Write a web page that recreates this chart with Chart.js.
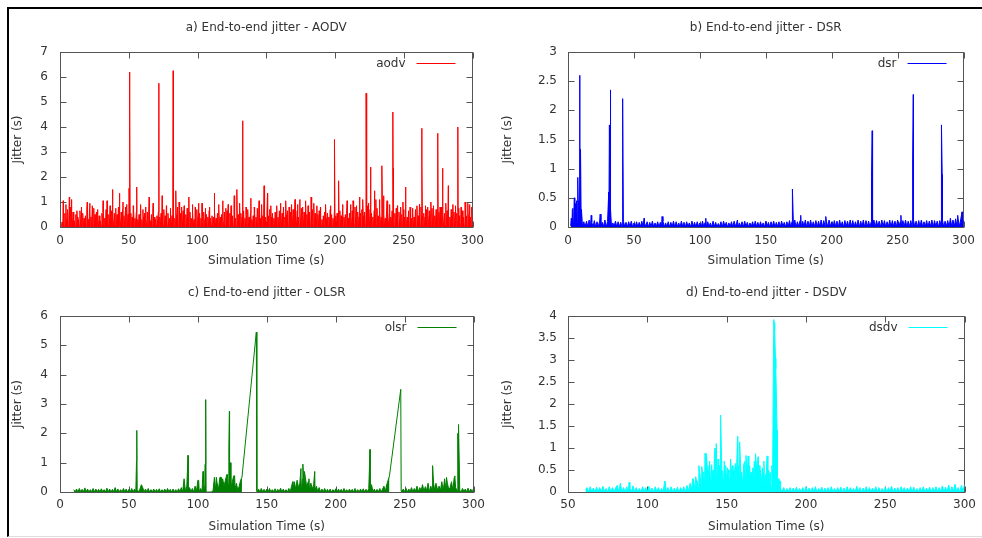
<!DOCTYPE html>
<html>
<head>
<meta charset="utf-8">
<title>End-to-end jitter</title>
<script src="https://cdn.jsdelivr.net/npm/chart.js@4.4.1/dist/chart.umd.min.js"></script>
<style>
	body { margin: 0; background: #fff; }
	#page { position: relative; width: 982px; height: 538px; overflow: hidden; }
	#frame { position: absolute; left: 7px; top: 7px; width: 975px; height: 530px; box-sizing: border-box;
		border-left: 2px solid #000; border-top: 2px solid #000; border-bottom: 1px solid #ddd; }
	canvas { position: absolute; }
</style>
</head>
<body>
<div id="page">
	<div id="frame"></div>
	<canvas id="cAodv" width="491" height="270" style="left:0;top:0"></canvas>
	<canvas id="cDsr" width="491" height="270" style="left:491px;top:0"></canvas>
	<canvas id="cOlsr" width="491" height="268" style="left:0;top:270px"></canvas>
	<canvas id="cDsdv" width="491" height="268" style="left:491px;top:270px"></canvas>
</div>
<script>
// jitter samples (s): regular floor samples plus the isolated peaks as [time, jitter]

// AODV, one sample every 0.5 s from t = 1
const aodvStart = 1, aodvStep = 0.5;
const aodvFloor = [
	.01,.2,.03,.45,0,.55,.02,.3,.04,.7,.01,.4,.03,.8,0,.35,.02,.6,.04,.25,
	.02,.5,0,.4,.03,.3,.01,.65,.04,.2,.02,.55,0,.35,.03,.45,.01,.7,.02,.3,
	.03,.75,.01,.4,.02,.85,0,.35,.04,.5,.02,.6,.01,.3,.03,.45,0,.25,.02,.55,
	.01,.6,.03,.35,0,.7,.02,.45,.04,.5,.01,.3,.03,.65,0,.4,.02,.55,.04,.35,
	.02,.5,.01,.8,.03,.4,0,.6,.02,.7,.04,.45,.01,.65,.03,.9,0,.5,.02,.4,
	.03,.55,.01,.4,.02,.7,0,.35,.04,.6,.02,.3,.01,.5,.03,.45,0,.3,.02,.4,
	.01,.55,.03,.3,0,.6,.02,.45,.04,.25,.01,.5,.03,.65,0,.4,.02,.3,.04,.45,
	.02,.6,0,.4,.03,.55,.01,.3,.04,.7,.02,.45,0,.3,.03,.55,.01,.35,.04,.65,
	.01,.45,.03,.6,0,.35,.02,.5,.04,.8,.01,.4,.03,.55,0,.3,.02,.65,.04,.4,
	.03,.5,.01,.75,.04,.4,0,.6,.02,.35,.03,.55,.01,.3,.04,.45,0,.7,.02,.4,
	.01,.55,.03,.35,0,.45,.02,.6,.04,.3,.01,.5,.03,.4,0,.65,.02,.35,.04,.45,
	.02,.4,0,.6,.03,.35,.01,.55,.04,.75,.02,.4,0,.5,.03,.3,.01,.6,.04,.45,
	.01,.65,.03,.4,0,.55,.02,.8,.04,.45,.01,.6,.03,.35,0,.7,.02,.5,.04,.4,
	.03,.55,.01,.4,.04,.65,0,.35,.02,.5,.03,.7,.01,.4,.04,.55,0,.3,.02,.45,
	.01,.6,.03,.4,0,.75,.02,.5,.04,.35,.01,.65,.03,.45,0,.55,.02,.4,.04,.6,
	.02,.45,0,.7,.03,.4,.01,.55,.04,.35,.02,.6,0,.5,.03,.4,.01,.65,.04,.45,
	.01,.55,.03,.8,0,.4,.02,.5,.04,.65,.01,.35,.03,.6,0,.45,.02,.7,.04,.4,
	.03,.5,.01,.65,.04,.4,0,.55,.02,.75,.03,.45,.01,.6,.04,.35,0,.5,.02,.4,
	.01,.6,.03,.45,0,.7,.02,.4,.04,.55,.01,.35,.03,.5,0,.65,.02,.4,.04,.3,
	.02,.45,0,.6,.03,.35,.01,.55,.04,.4,.02,.7,0,.5,.03,.35,.01,.6,.04,.45,
	.01,.55,.03,.4,0,.65,.02,.45,.04,.75,.01,.4,.03,.5,0,.6,.02,.35,.04,.55,
	.03,.4,.01,.65,.04,.5,0,.8,.02,.45,.03,.6,.01,.4,.04,.55,0,.7,.02,.45,
	.01,.6,.03,.5,0,.85,.02,.45,.04,.7,.01,.55,.03,.4,0,.65,.02,.5,.04,.75,
	.02,.45,0,.6,.03,.4,.01,.7,.04,.5,.02,.35,0,.65,.03,.45,.01,.55,.04,.4,
	.01,.65,.03,.45,0,.55,.02,.75,.04,.4,.01,.6,.03,.35,0,.5,.02,.7,.04,.4,
	.03,.5,.01,.4,.04,.65,0,.45,.02,.35,.03,.55,.01,.4,.04,.7,0,.5,.02,.45,
	.01,.6,.03,.8,0,.45,.02,.55,.04,.4,.01,.7,.03,.5,0,.65,.02,.4,.04,.75,
	.02,.55,0,.45,.03,.7,.01,.4,.04,.6,.02,.5,0,.8,.03,.45,.01,.55,.04,.4,
	.01,.65,.03,.5,0,.4,.02,.7,.04,.45,.01,.6,.03,.35,0,.55,.02,.75,.04,.45,
	.03,.5,.01,.65,.04,.4,0,.6,.02,.45,.03,.7,.01,.5,.04,.4,0,.6,.02,.4
];
const aodvPeaks = [
	[2.4,1.05],[4.3,.9],[6.8,1.2],[8.4,1.1],[12.3,.65],[15.6,.8],[19.8,1.0],[21.7,.95],
	[24.6,.75],[27.3,.7],[31.4,1.05],[34.2,1.05],[36.4,.85],[38.1,1.5],[40.6,.75],[43.2,1.35],
	[45.8,1.0],[47.6,.8],[50.2,1.55],[50.7,6.2],[50.8,4.65],[53.3,.85],[55.8,1.6],[58.6,.9],
	[60.3,.7],[62.2,.8],[64.9,1.2],[67.7,.95],[71.9,5.75],[74.3,1.25],[77.4,.85],[80.2,.75],
	[82.3,6.25],[84.2,1.45],[86.6,1.0],[88.4,.8],[90.3,.85],[93.7,1.2],[96.3,.9],[98.4,.8],
	[100.7,.95],[103.3,.95],[105.6,.75],[108.6,.8],[112.2,1.35],[115.4,.9],[118.3,1.05],
	[120.7,.75],[122.3,.9],[124.4,.85],[126.7,1.25],[128.7,1.5],[130.6,.95],[132.8,4.25],
	[135.4,.8],[138.8,1.15],[141.3,.8],[144.8,1.05],[146.6,.9],[148.4,1.65],[150.9,1.35],
	[153.3,.85],[157.6,.85],[160.4,.95],[164.1,1.05],[166.6,.8],[168.3,.9],[170.9,1.1],
	[172.7,.9],[174.4,1.1],[176.4,.8],[178.6,1.05],[180.4,.85],[182.6,1.2],[184.6,.95],
	[186.8,.85],[189.4,.8],[193.1,.9],[196.6,.85],[199.6,3.5],[202.6,1.85],[205.6,.9],
	[208.8,1.05],[211.3,.9],[213.1,1.05],[215.6,.85],[217.9,1.2],[220.1,1.1],[222.6,5.35],
	[224.3,.95],[225.9,2.4],[228.6,1.45],[229.7,1.1],[232.4,1.1],[234.1,2.45],[235.3,1.25],
	[237.8,1.05],[239.7,.9],[242.1,4.6],[242.2,2.35],[245.4,.85],[247.7,.8],[249.4,1.0],
	[251.3,1.6],[254.6,.8],[256.4,.75],[259.6,.85],[261.4,.9],[263.1,3.95],[263.2,2.5],
	[265.6,.85],[267.3,.8],[269.7,1.0],[271.6,.85],[274.7,3.75],[276.4,.8],[278.1,2.35],
	[280.6,.95],[282.4,1.65],[285.7,.9],[287.6,.85],[289.2,2.05],[289.4,4.0],[291.7,.8],
	[294.6,1.0],[296.6,.95],[297.8,.9],[299.3,.8]
];

// DSR, one sample per second from t = 2
const dsrStart = 2, dsrStep = 1;
const dsrFloor = [
	.02,.05,.1,.04,.15,.08,.12,.05,.1,.01,.09,0,.1,.01,.12,0,.08,.01,.11,0,
	.09,.01,.1,0,.08,.01,.12,0,.09,.01,.1,0,.07,.01,.1,0,.09,.01,.08,0,
	.1,.01,.08,0,.09,.01,.1,0,.07,.01,.09,0,.08,.01,.1,0,.07,.01,.09,0,
	.08,.01,.1,0,.07,.01,.09,0,.08,.01,.1,0,.07,.01,.09,0,.08,.01,.1,0,
	.09,.01,.07,0,.1,.01,.08,0,.09,.01,.07,0,.1,.01,.08,0,.09,.01,.07,0,
	.1,.01,.08,0,.09,.01,.07,0,.1,.01,.08,0,.06,.01,.09,0,.1,.01,.08,0,
	.07,.01,.09,0,.1,.01,.08,0,.07,.01,.09,0,.1,.01,.08,0,.07,.01,.09,0,
	.1,.01,.08,0,.09,.01,.07,0,.1,.01,.08,0,.09,.01,.1,0,.08,.01,.09,0,
	.1,.01,.08,0,.09,.01,.11,0,.1,.01,.12,0,.09,.01,.11,0,.1,.01,.12,0,
	.1,.01,.12,0,.09,.01,.11,0,.1,.01,.12,0,.11,.01,.1,0,.12,.01,.09,0,
	.11,.01,.1,0,.12,.01,.09,0,.11,.01,.1,0,.12,.01,.11,0,.09,.01,.12,0,
	.1,.01,.12,0,.11,.01,.1,0,.09,.01,.12,0,.11,.01,.1,0,.12,.01,.11,0,
	.09,.01,.12,0,.11,.01,.1,0,.12,.01,.09,0,.11,.01,.12,0,.1,.01,.11,0,
	.12,.01,.1,0,.11,.01,.12,0,.09,.01,.11,0,.1,.01,.12,0,.11,.01,.1,0,
	.11,.01,.12,0,.1,.01,.11,0,.15,.01,.12,.01,.14,0,.12,.01,.15,.01,.12,0
];
const dsrPeaks = [
	[2.5,.15],[3.3,.3],[3.7,.32],[4.5,.28],[4.8,.5],[5.3,.35],[5.6,.4],[6.5,.45],[7.3,.3],
	[7.5,.85],[8.1,.45],[8.5,.35],[8.9,2.6],[9.5,1.33],[10.2,.3],[17.6,.2],[24.4,.22],
	[30.9,.6],[31.4,1.75],[32.1,2.35],[32.4,.3],[41.2,1.15],[41.7,2.2],[57.7,.15],[71.3,.18],
	[104.5,.15],[128.5,.12],[170.1,.35],[170.3,.65],[176.5,.2],[195.5,.18],[230.2,.85],
	[230.7,1.65],[252.5,.2],[261.4,1.15],[261.9,2.27],[283.1,.88],[283.4,1.75],[283.8,.9],
	[295.6,.2],[298.9,.26]
];

// OLSR, one sample per second from t = 10 (null = no packet received)
const olsrStart = 10, olsrStep = 1;
const olsrFloor = [
	.08,.01,.1,0,.12,.01,.09,0,.14,.01,.1,0,.08,.01,.12,0,.1,.01,.09,0,
	.11,.01,.08,0,.13,.01,.1,0,.09,.01,.15,0,.1,.01,.08,0,.12,.01,.1,0,
	.09,.01,.12,0,.1,.01,.08,0,.1,.25,.15,0,.1,.01,.12,0,.08,.01,.1,0,
	.09,.01,.11,0,.08,.01,.1,0,.12,.01,.09,0,.1,.01,.08,0,.11,.01,.15,0,
	.45,.02,.2,0,.15,.01,.12,0,.2,.02,.4,0,.12,.02,.3,.05,.01,0,0,0,
	.01,.03,.5,.05,.3,.1,.5,.15,.45,.2,.4,.6,.25,.5,.15,.35,.55,.1,.3,.05,
	.2,.4,.5,null,null,null,null,null,null,null,null,null,null,.02,.1,0,.12,.01,.09,0,
	.1,.01,.12,0,.08,.01,.11,0,.09,.01,.13,0,.1,.01,.08,0,.12,.01,.2,.05,
	.35,.1,.4,.15,.3,.05,.45,.2,.5,.15,.35,.05,.3,.1,.25,.05,.2,.02,.15,0,
	.1,.01,.12,0,.09,.01,.1,0,.08,.01,.11,0,.1,.01,.09,0,.12,.01,.08,0,
	.1,.01,.09,0,.12,.01,.08,0,.1,.01,.11,0,.09,.01,.12,0,.25,.01,.1,0,
	.09,.01,.12,0,.1,.2,.02,.25,.4,.55,null,null,null,null,null,null,null,null,.02,.1,
	.01,.12,0,.1,.02,.15,0,.12,.03,.2,.01,.15,.05,.25,.02,.18,.05,.3,.01,.2,
	.05,.3,.02,.25,.05,.2,.05,.35,.02,.45,.05,.3,.1,.15,.35,.05,.5,.15,.05,.3,
	.05,.01,.12,.02,.1,0,.13,.01,.1,0,.12
];
const olsrPeaks = [
	[55.5,1.05],[55.7,2.1],[59.2,.25],[90.5,.45],[92.9,1.25],[100.6,.4],[103.8,.7],[105.2,.95],
	[105.6,2.4],[105.8,3.15],[113.4,.5],[116.8,.5],[121.4,.6],[122.5,1.55],[122.9,2.75],
	[123.4,1.0],[126.7,.55],[142.4,5.45],[142.8,.05],[168.8,.35],[174.8,.8],[176.2,.95],
	[177.3,.7],[180.6,.45],[184.8,.7],[224.9,1.45],[247.2,3.5],[247.5,.05],[270.3,.9],
	[272.7,.3],[280.4,.5],[286.4,.55],[288.6,2.0],[289.1,2.3]
];

// DSDV, one sample per second from t = 61
const dsdvStart = 61, dsdvStep = 1;
const dsdvFloor = [
	.05,.1,0,.12,.01,.09,0,.11,.01,.1,0,.13,.01,.08,0,.12,.01,.1,0,.09,
	.15,.01,.2,0,.1,.01,.12,0,.09,.01,.14,0,.1,.01,.08,0,.12,.01,.1,0,
	.13,.01,.09,0,.12,.01,.1,0,.08,.01,.25,0,.1,.01,.12,0,.09,.01,.11,0,
	.1,.01,.12,0,.15,.02,.2,.05,.3,.05,.25,.1,.45,.1,.4,.05,.3,.1,.5,.1,
	.35,.05,.4,.1,.3,.15,.5,.05,.45,.2,.5,.1,.4,.15,.45,.2,.5,.25,.4,.15,
	.5,.1,.45,.25,.35,.05,.4,.15,.5,.1,.3,.2,.45,.05,.4,.15,.35,.1,.4,3.85,
	2.8,.35,.25,.05,.02,.1,0,.08,.01,.1,0,.09,.01,.11,0,.08,.01,.1,0,.12,
	.01,.09,0,.1,.01,.12,0,.08,.01,.11,0,.09,.01,.1,0,.12,.01,.08,0,.1,
	.01,.11,0,.09,.01,.12,0,.1,.01,.08,0,.13,.01,.1,0,.09,.01,.12,0,.1,
	.01,.09,0,.12,.01,.1,0,.08,.01,.11,0,.1,.01,.13,0,.09,.01,.1,0,.12,
	.01,.1,0,.09,.01,.12,0,.11,.01,.08,0,.1,.01,.12,0,.09,.01,.11,0,.1,
	.01,.12,0,.1,.01,.14,0,.11,.01,.16,0,.12,.02,.18,.01,.1,0,.15,.01,.17
];
const dsdvPeaks = [
	[88.5,.22],[111.2,.25],[128.5,.3],[130.5,.35],[131.5,.25],[132.5,.6],[133.5,.3],[134.3,.58],
	[135.5,.45],[136.4,.88],[137.3,.85],[137.8,.55],[138.9,.6],[139.5,.7],[140.6,.62],
	[141.5,.5],[142.3,.85],[142.7,1.0],[143.5,1.1],[144.6,.75],[145.5,.6],[146.2,1.75],
	[147.5,.45],[148.5,.7],[149.4,.6],[150.5,.55],[151.5,.4],[152.5,.75],[153.6,.6],
	[154.5,.5],[155.5,.65],[156.9,1.26],[157.5,.6],[158.2,1.14],[159.5,.45],[160.9,.65],
	[161.5,.7],[162.2,.83],[163.6,.82],[164.5,.6],[165.5,.45],[166.5,.55],[167.5,.7],
	[168.2,.87],[169.9,.8],[170.5,.6],[171.3,.5],[172.5,.55],[173.5,.7],[174.5,.4],
	[175.5,.82],[176.5,.5],[177.5,.45],[178.5,.6],[179.7,3.92],[180.3,3.68],[180.8,3.04],
	[181.2,2.5],[181.8,1.4],[182.4,.3],[183.9,.25]
];

const xLabel = 'Simulation Time (s)';
const yLabel = 'Jitter (s)';
const textColor = '#333';
const fontFamily = "'DejaVu Sans', Verdana, sans-serif";

// merge floor samples and peaks into one time-ordered line
function buildPoints(start, step, floor, peaks) {
	let pts = [];
	floor.forEach(function (v, i) {
		if (v !== null) pts.push({ x: start + i * step, y: v });
	});
	peaks.forEach(function (p) { pts.push({ x: p[0], y: p[1] }); });
	pts.sort(function (a, b) { return a.x - b.x; });
	return pts;
}

// gnuplot style box with inward ticks on all four sides
const boxPlugin = {
	id: 'box',
	beforeDatasetsDraw: function (chart) {
		const ctx = chart.ctx;
		const a = chart.chartArea;
		const l = Math.round(a.left) + 0.5, r = Math.round(a.right) - 0.5;
		const t = Math.round(a.top) + 0.5, b = Math.round(a.bottom) + 0.5;
		ctx.save();
		ctx.strokeStyle = '#555';
		ctx.lineWidth = 1;
		ctx.strokeRect(l, t, r - l, b - t);
		ctx.beginPath();
		chart.scales.x.ticks.forEach(function (tk) {
			const px = Math.round(chart.scales.x.getPixelForValue(tk.value)) + 0.5;
			ctx.moveTo(px, b); ctx.lineTo(px, b - 6);
			ctx.moveTo(px, t); ctx.lineTo(px, t + 6);
		});
		chart.scales.y.ticks.forEach(function (tk) {
			const py = Math.round(chart.scales.y.getPixelForValue(tk.value)) + 0.5;
			ctx.moveTo(l, py); ctx.lineTo(l + 6, py);
			ctx.moveTo(r, py); ctx.lineTo(r - 6, py);
		});
		ctx.stroke();
		ctx.restore();
	}
};

// key in the top right corner: label then a line sample
const keyPlugin = {
	id: 'key',
	afterDraw: function (chart) {
		const ctx = chart.ctx;
		const a = chart.chartArea;
		const ds = chart.data.datasets[0];
		const y = Math.round(a.top) + 11.5;
		ctx.save();
		ctx.font = '12px ' + fontFamily;
		ctx.fillStyle = textColor;
		ctx.textAlign = 'right';
		ctx.textBaseline = 'middle';
		ctx.fillText(ds.label, a.right - 67, y);
		ctx.strokeStyle = ds.borderColor;
		ctx.lineWidth = 1;
		ctx.beginPath();
		ctx.moveTo(a.right - 56, y);
		ctx.lineTo(a.right - 17, y);
		ctx.stroke();
		ctx.restore();
	}
};

function drawJitter(id, o) {
	var ctx = document.getElementById(id).getContext('2d');
	var font = { family: fontFamily, size: 12 };
	return new Chart(ctx, {
		type: 'line',
		data: {
			datasets: [{
				label: o.label,
				data: o.points,
				borderColor: o.color,
				backgroundColor: o.color,
				borderWidth: 1,
				pointRadius: 0,
				tension: 0,
				fill: 'origin',
				// samples are dense enough to read as a solid band; long gaps stay a bare line
				segment: {
					backgroundColor: function (c) {
						return c.p1.parsed.x - c.p0.parsed.x > 3 ? 'rgba(0,0,0,0)' : undefined;
					}
				}
			}]
		},
		options: {
			responsive: false,
			animation: false,
			events: [],
			layout: { padding: { left: 0, top: 0, bottom: 0, right: o.padRight } },
			plugins: {
				legend: { display: false },
				tooltip: { enabled: false },
				title: {
					display: true,
					fullSize: false,
					text: o.title,
					color: textColor,
					font: { family: fontFamily, size: 12, weight: 'normal' },
					padding: { top: o.titleTop, bottom: o.titleBottom }
				}
			},
			scales: {
				x: {
					type: 'linear',
					min: o.xMin,
					max: 300,
					grid: { display: false, drawTicks: false },
					border: { display: false },
					ticks: { stepSize: 50, color: textColor, font: font, padding: o.xPad, maxRotation: 0 },
					title: { display: true, text: xLabel, color: textColor, font: font, padding: { top: 0, bottom: o.xTitlePad } },
					afterFit: function (s) { s.height = o.xHeight; }
				},
				y: {
					min: 0,
					max: o.yMax,
					grid: { display: false, drawTicks: false },
					border: { display: false },
					ticks: {
						stepSize: o.yStep, color: textColor, font: font, padding: o.yPad,
						callback: function (v) { return String(v); }
					},
					title: { display: true, text: yLabel, color: textColor, font: font, padding: { top: o.yTitlePad, bottom: 0 } },
					afterFit: function (s) { s.width = o.yWidth; }
				}
			}
		},
		plugins: [boxPlugin, keyPlugin]
	});
}

drawJitter('cAodv', {
	label: 'aodv', color: '#ff0000', title: 'a) End-to-end jitter - AODV',
	points: buildPoints(aodvStart, aodvStep, aodvFloor, aodvPeaks),
	xMin: 0, yMax: 7, yStep: 1,
	padRight: 17, yWidth: 60, yPad: 12, yTitlePad: 11,
	titleTop: 20.8, titleBottom: 16.8, xHeight: 43, xPad: 7, xTitlePad: 1.8
});
drawJitter('cDsr', {
	label: 'dsr', color: '#0000ff', title: 'b) End-to-end jitter - DSR',
	points: buildPoints(dsrStart, dsrStep, dsrFloor, dsrPeaks),
	xMin: 0, yMax: 3, yStep: 0.5,
	padRight: 15, yWidth: 77, yPad: 11, yTitlePad: 10,
	titleTop: 20.8, titleBottom: 16.8, xHeight: 43, xPad: 7, xTitlePad: 1.8
});
drawJitter('cOlsr', {
	label: 'olsr', color: '#008000', title: 'c) End-to-end jitter - OLSR',
	points: buildPoints(olsrStart, olsrStep, olsrFloor, olsrPeaks),
	xMin: 0, yMax: 6, yStep: 1,
	padRight: 17, yWidth: 60, yPad: 12, yTitlePad: 11,
	titleTop: 16.1, titleBottom: 15.5, xHeight: 46, xPad: 6, xTitlePad: 4.1
});
drawJitter('cDsdv', {
	label: 'dsdv', color: '#00ffff', title: 'd) End-to-end jitter - DSDV',
	points: buildPoints(dsdvStart, dsdvStep, dsdvFloor, dsdvPeaks),
	xMin: 50, yMax: 4, yStep: 0.5,
	padRight: 15, yWidth: 77, yPad: 11, yTitlePad: 10,
	titleTop: 16.1, titleBottom: 15.5, xHeight: 46, xPad: 6, xTitlePad: 4.1
});
</script>
</body>
</html>
